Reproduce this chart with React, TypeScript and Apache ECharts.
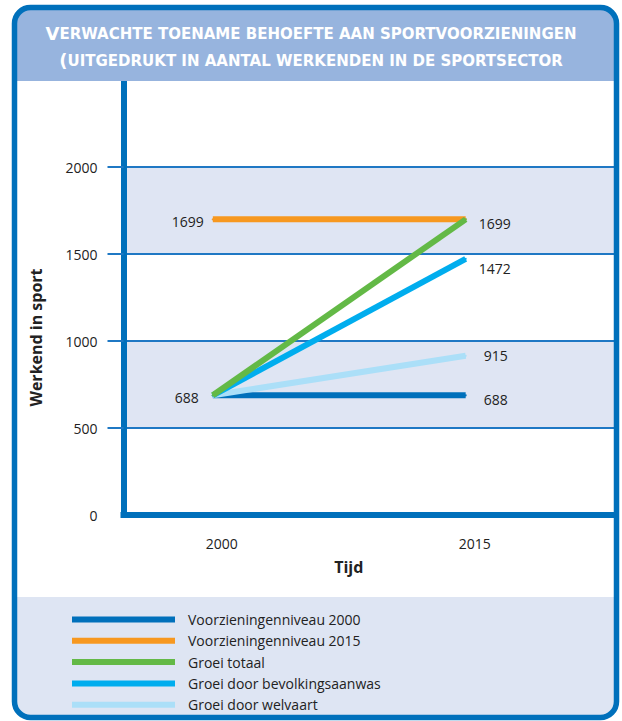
import React, { useEffect, useRef } from 'react';
import * as echarts from 'echarts';

const years = [2000, 2015];
const voorz2000 = [688, 688];
const voorz2015 = [1699, 1699];
const groeiTotaal = [688, 1699];
const groeiBevolking = [688, 1472];
const groeiWelvaart = [688, 915];
const yTickValues = [500, 1000, 1500, 2000];
const seriesNames = [
  'Voorzieningenniveau 2000',
  'Voorzieningenniveau 2015',
  'Groei totaal',
  'Groei door bevolkingsaanwas',
  'Groei door welvaart',
];
const titleLine1 = ['V', 'ERWACHTE TOENAME BEHOEFTE AAN SPORTVOORZIENINGEN'];
const titleLine2 = ['(', 'UITGEDRUKT IN AANTAL WERKENDEN IN DE SPORTSECTOR'];
const yAxisName = 'Werkend in sport';
const xAxisName = 'Tijd';

const FONT = '"Open Sans", "Noto Sans", sans-serif';
const TXT = '#222222';
const DARK = '#0070bb';

export default function App() {
  const ref = useRef<HTMLDivElement>(null);
  useEffect(() => {
    if (!ref.current) return;
    const chart = echarts.init(ref.current, null, { renderer: 'svg' });

    const lbl = (show: boolean, position: string, distance: number, dy: number) =>
      show
        ? { show: true, position, distance, offset: [0, dy], fontSize: 14, color: TXT, fontFamily: FONT }
        : { show: false };

    const mk = (vals: number[], labels: any[]) =>
      years.map((y, i) => ({ value: [y, vals[i]], label: labels[i] }));

    const line = (name: string, color: string, z: number, data: any[]) => ({
      name,
      type: 'line',
      color,
      z,
      symbol: 'circle',
      symbolSize: 2,
      showSymbol: true,
      itemStyle: { color },
      lineStyle: { width: 6, color, cap: 'butt' },
      data,
    });

    const option: any = {
      animation: false,
      textStyle: { fontFamily: FONT },
      title: {
        text:
          `{a|${titleLine1[0]}}{b|${titleLine1[1]}}\n{a|${titleLine2[0]}}{b|${titleLine2[1]}}`,
        left: 'center',
        top: 15,
        padding: [5, 5, 5, 23],
        z: 8,
        textStyle: {
          rich: {
            a: { fontSize: 18, fontWeight: 'bold', color: '#ffffff', fontFamily: '"DejaVu Sans", sans-serif', lineHeight: 27 },
            b: { fontSize: 15, fontWeight: 'bold', color: '#ffffff', fontFamily: '"DejaVu Sans", sans-serif', lineHeight: 27 },
          },
        },
      },
      graphic: [
        {
          type: 'rect',
          z: 5,
          shape: { x: 14, y: 8, width: 602, height: 73, r: [14, 14, 0, 0] },
          style: { fill: '#97b4de' },
        },
        {
          type: 'rect',
          z: 0,
          shape: { x: 14, y: 597, width: 602, height: 120, r: [0, 0, 14, 14] },
          style: { fill: '#dee5f3' },
        },
        {
          type: 'rect',
          z: 20,
          shape: { x: 14.5, y: 7.5, width: 602, height: 710, r: 16 },
          style: { fill: 'none', stroke: DARK, lineWidth: 5.5 },
        },
      ],
      grid: { left: 123.5, right: 8, top: 80, bottom: 206 },
      legend: {
        orient: 'vertical',
        left: 72,
        top: 611,
        height: 110,
        padding: 0,
        itemWidth: 103,
        itemHeight: 6,
        itemGap: 4.3,
        icon: 'rect',
        data: seriesNames,
        textStyle: { fontSize: 14, color: TXT, fontFamily: FONT, lineHeight: 17, padding: [0, 0, 0, 8] },
      },
      xAxis: {
        type: 'value',
        min: 1994.7,
        max: 2023.8,
        name: xAxisName,
        nameLocation: 'middle',
        nameGap: 44,
        nameTextStyle: { fontSize: 16, fontWeight: 'bold', color: TXT, fontFamily: FONT, padding: [0, 40, 0, 0] },
        axisLine: { show: true, lineStyle: { color: DARK, width: 6, cap: 'square' } },
        axisTick: { show: false },
        splitLine: { show: false },
        axisLabel: {
          customValues: years,
          fontSize: 14,
          color: TXT,
          margin: 21,
          padding: [0, 0, 0, 18],
          formatter: (v: number) => String(v),
        },
      },
      yAxis: {
        type: 'value',
        min: 0,
        max: 2500,
        interval: 500,
        name: yAxisName,
        nameLocation: 'middle',
        nameGap: 80,
        nameTextStyle: { fontSize: 16, fontWeight: 'bold', color: TXT, fontFamily: FONT, padding: [0, 80, 0, 0] },
        axisLine: { show: true, lineStyle: { color: DARK, width: 6 } },
        axisTick: {
          show: true,
          inside: false,
          length: 16,
          customValues: yTickValues,
          lineStyle: { color: '#1f78c4', width: 2 },
        },
        splitLine: { show: true, lineStyle: { color: '#1f78c4', width: 2 } },
        splitArea: { show: true, areaStyle: { color: ['#dfe5f3', '#ffffff'] } },
        axisLabel: {
          fontSize: 14,
          color: TXT,
          margin: 26,
          padding: [0, 0, 8, 0],
          formatter: (v: number) => (v === 2500 ? '' : String(v)),
        },
      },
      series: [
        line(seriesNames[0], '#0070bb', 2, mk(voorz2000, [lbl(true, 'left', 13, 2), lbl(true, 'right', 17, 4)])),
        line(seriesNames[1], '#f7981f', 3, mk(voorz2015, [lbl(true, 'left', 8, 2), lbl(false, '', 0, 0)])),
        line(seriesNames[4], '#abdff8', 4, mk(groeiWelvaart, [lbl(false, '', 0, 0), lbl(true, 'right', 17, 0)])),
        line(seriesNames[3], '#00adee', 5, mk(groeiBevolking, [lbl(false, '', 0, 0), lbl(true, 'right', 12, 10)])),
        line(seriesNames[2], '#63b946', 6, mk(groeiTotaal, [lbl(false, '', 0, 0), lbl(true, 'right', 12, 4)])),
      ],
    };
    chart.setOption(option);
    return () => chart.dispose();
  }, []);
  return <div ref={ref} style={{ width: 622, height: 721, position: 'absolute', left: 0, top: 0 }} />;
}
